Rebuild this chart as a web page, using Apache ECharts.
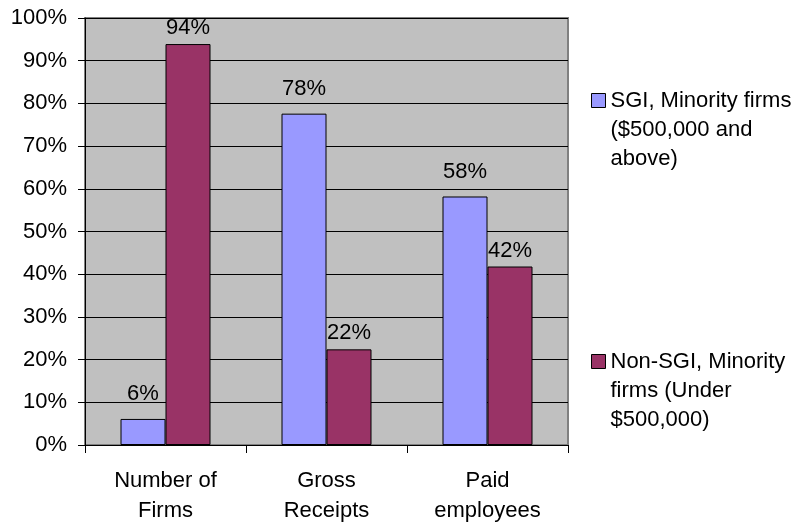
<!DOCTYPE html>
<html>
<head>
<meta charset="utf-8">
<script src="https://cdn.jsdelivr.net/npm/echarts@6/dist/echarts.min.js"></script>
<style>html,body{margin:0;padding:0;background:#fff;}#c{width:791px;height:527px;}</style>
</head>
<body>
<div id="c"></div>
<script>
var categories = ['Number of\nFirms', 'Gross\nReceipts', 'Paid\nemployees'];
var seriesNames = ['SGI, Minority firms\n($500,000 and\nabove)', 'Non-SGI, Minority\nfirms (Under\n$500,000)'];
var sgiValues = [6.1, 77.6, 58.2];
var nonSgiValues = [93.9, 22.4, 41.8];
var yTicks = [0, 10, 20, 30, 40, 50, 60, 70, 80, 90, 100];

var FONT = '"Liberation Sans", Arial, sans-serif';
var chart = echarts.init(document.getElementById('c'), null, {renderer: 'canvas'});

function barSeries(name, data, color, labelDistance) {
  return {
    name: name,
    type: 'bar',
    data: data,
    barWidth: 45,
    barGap: '0%',
    itemStyle: {color: color, borderColor: '#000', borderWidth: 1},
    label: {
      show: true, position: 'top', distance: labelDistance,
      color: '#000', fontFamily: FONT, fontSize: 22,
      formatter: function (p) { return Math.round(p.value) + '%'; }
    },
    emphasis: {disabled: true}
  };
}

chart.setOption({
  animation: false,
  backgroundColor: '#fff',
  grid: {
    left: 85, right: 223, top: 18, bottom: 82,
    show: true, backgroundColor: '#C0C0C0', borderColor: '#808080', borderWidth: 2
  },
  legend: {
    orient: 'vertical',
    left: 586,
    top: 23,
    itemWidth: 14,
    itemHeight: 14,
    itemGap: 116,
    icon: 'rect',
    itemStyle: {borderColor: '#000', borderWidth: 1},
    textStyle: {fontFamily: FONT, fontSize: 22, color: '#000', lineHeight: 29},
    formatter: function (name) { return '\n\n' + name; },
    data: seriesNames
  },
  xAxis: {
    type: 'category',
    data: categories,
    axisLine: {lineStyle: {color: '#000', width: 1}},
    axisTick: {show: true, length: 8, lineStyle: {color: '#000'}},
    axisLabel: {fontFamily: FONT, fontSize: 22, color: '#000', lineHeight: 30, margin: 21, interval: 0}
  },
  yAxis: {
    type: 'value',
    min: yTicks[0], max: yTicks[yTicks.length - 1], interval: 10,
    axisLine: {show: true, lineStyle: {color: '#000', width: 1}},
    axisTick: {show: true, length: 7, lineStyle: {color: '#000'}},
    splitLine: {show: true, lineStyle: {color: '#000', width: 1}},
    axisLabel: {fontFamily: FONT, fontSize: 22, color: '#000', margin: 18, formatter: '{value}%'}
  },
  series: [
    barSeries(seriesNames[0], sgiValues, '#9999FF', 14),
    barSeries(seriesNames[1], nonSgiValues, '#993366', 5)
  ]
});
</script>
</body>
</html>
